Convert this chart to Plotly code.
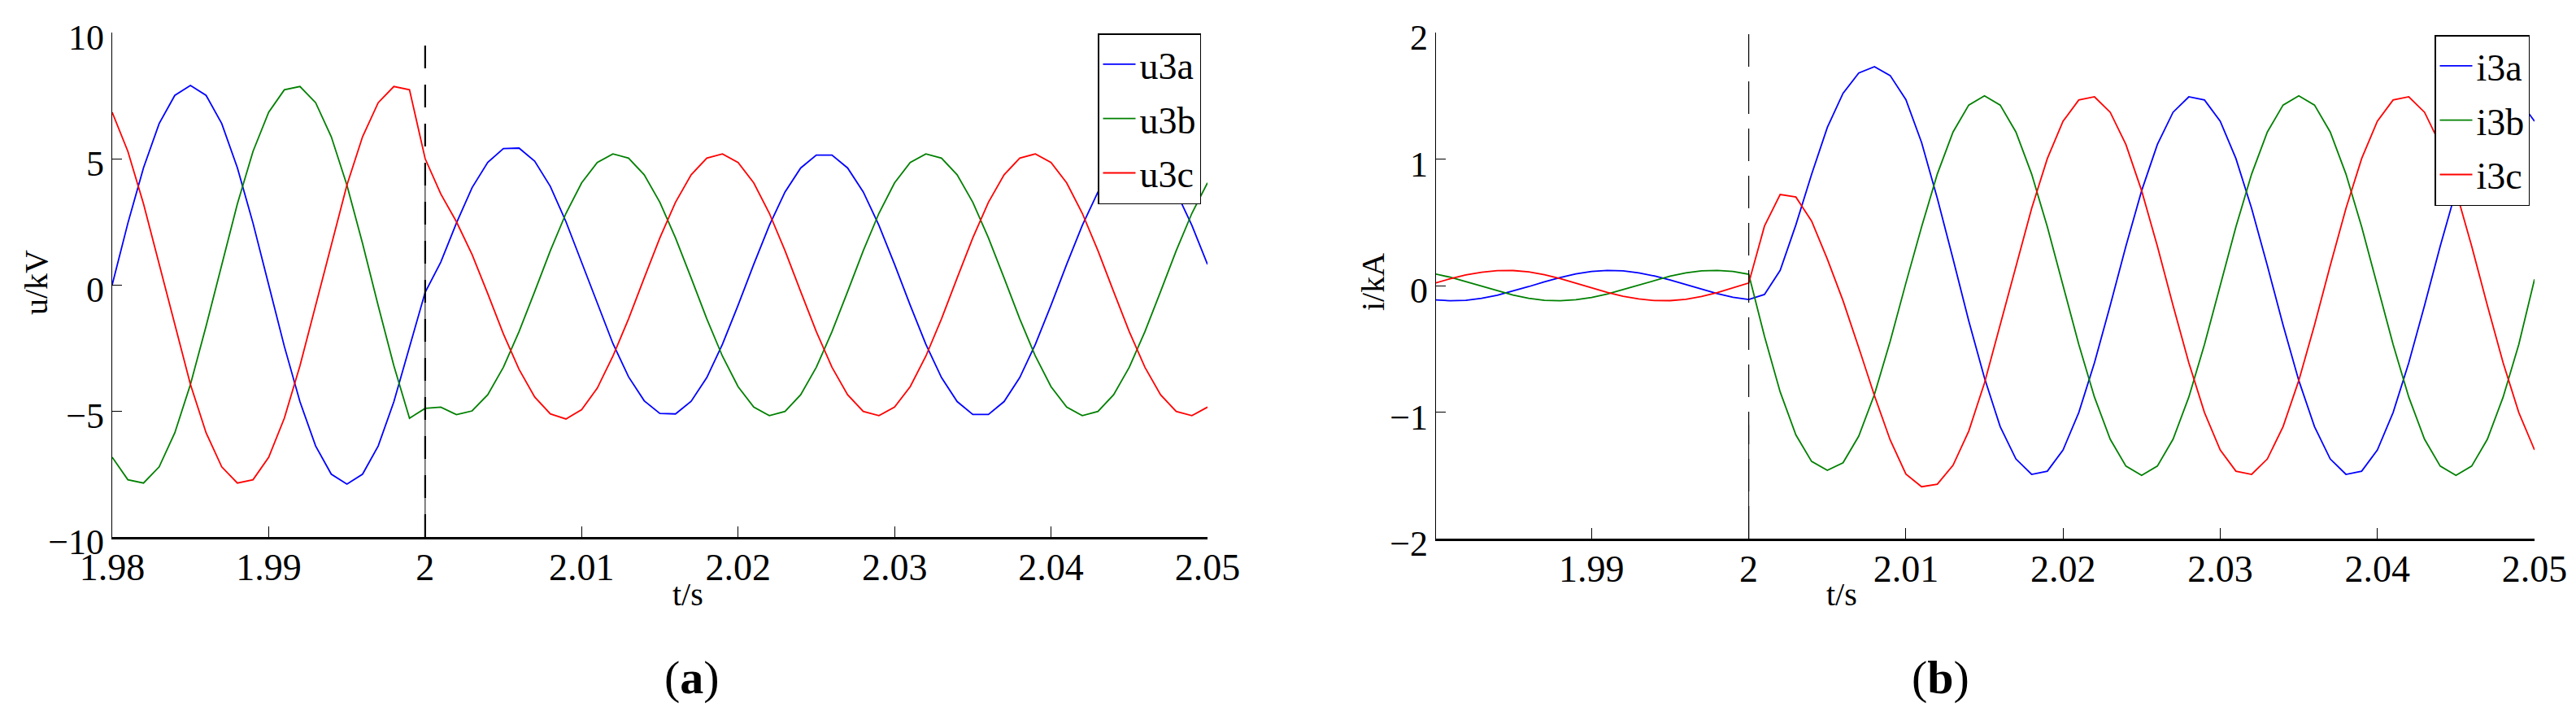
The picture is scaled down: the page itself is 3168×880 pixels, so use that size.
import plotly.graph_objects as go

# ---------------- data ----------------
t = [round(1.98 + 0.001 * i, 3) for i in range(71)]

u3a = [0, 2.44, 4.64, 6.39, 7.51, 7.90, 7.51, 6.39, 4.64, 2.44,
       0, -2.44, -4.64, -6.39, -7.51, -7.90, -7.51, -6.39, -4.64, -2.44,
       -0.30, 0.90, 2.45, 3.85, 4.85, 5.40, 5.42, 4.90, 3.90, 2.50,
       0.90, -0.75, -2.33, -3.65, -4.60, -5.10, -5.12, -4.62, -3.68, -2.36,
       -0.81, 0.81, 2.36, 3.68, 4.63, 5.14, 5.14, 4.63, 3.68, 2.36,
       0.81, -0.81, -2.36, -3.68, -4.63, -5.14, -5.14, -4.63, -3.68, -2.36,
       -0.81, 0.81, 2.36, 3.68, 4.63, 5.14, 5.14, 4.63, 3.68, 2.36, 0.81]
u3b = [-6.84, -7.73, -7.86, -7.22, -5.87, -3.95, -1.64, 0.83, 3.21, 5.29,
       6.84, 7.73, 7.86, 7.22, 5.87, 3.95, 1.64, -0.83, -3.21, -5.29,
       -4.90, -4.85, -5.15, -5.00, -4.36, -3.27, -1.86, -0.27, 1.35, 2.83,
       4.04, 4.85, 5.19, 5.02, 4.36, 3.27, 1.86, 0.27, -1.35, -2.83,
       -4.04, -4.85, -5.19, -5.02, -4.36, -3.27, -1.86, -0.27, 1.35, 2.83,
       4.04, 4.85, 5.19, 5.02, 4.36, 3.27, 1.86, 0.27, -1.35, -2.83,
       -4.04, -4.85, -5.19, -5.02, -4.36, -3.27, -1.86, -0.27, 1.35, 2.83, 4.04]
u3c = [6.84, 5.29, 3.21, 0.83, -1.64, -3.95, -5.87, -7.22, -7.86, -7.73,
       -6.84, -5.29, -3.21, -0.83, 1.64, 3.95, 5.87, 7.22, 7.86, 7.73,
       5.00, 3.60, 2.50, 1.20, -0.35, -1.95, -3.35, -4.45, -5.12, -5.32,
       -4.95, -4.10, -2.83, -1.35, 0.27, 1.86, 3.27, 4.36, 5.02, 5.19,
       4.85, 4.04, 2.83, 1.35, -0.27, -1.86, -3.27, -4.36, -5.02, -5.19,
       -4.85, -4.04, -2.83, -1.35, 0.27, 1.86, 3.27, 4.36, 5.02, 5.19,
       4.85, 4.04, 2.83, 1.35, -0.27, -1.86, -3.27, -4.36, -5.02, -5.19, -4.85]

i3a = [-0.112, -0.120, -0.116, -0.101, -0.076, -0.044, -0.008, 0.030, 0.064, 0.092,
       0.112, 0.120, 0.116, 0.101, 0.076, 0.044, 0.008, -0.030, -0.064, -0.092,
       -0.110, -0.070, 0.120, 0.480, 0.880, 1.250, 1.520, 1.680, 1.730, 1.660,
       1.470, 1.130, 0.690, 0.210, -0.280, -0.730, -1.115, -1.370, -1.492, -1.467,
       -1.299, -1.004, -0.610, -0.157, 0.312, 0.750, 1.115, 1.370, 1.492, 1.467,
       1.299, 1.004, 0.610, 0.157, -0.312, -0.750, -1.115, -1.370, -1.492, -1.467,
       -1.299, -1.004, -0.610, -0.157, 0.312, 0.750, 1.115, 1.370, 1.492, 1.467, 1.299]
i3b = [0.094, 0.066, 0.032, -0.005, -0.042, -0.075, -0.100, -0.116, -0.120, -0.112,
       -0.094, -0.066, -0.032, 0.005, 0.042, 0.075, 0.100, 0.116, 0.120, 0.112,
       0.090, -0.400, -0.840, -1.180, -1.390, -1.460, -1.400, -1.190, -0.860, -0.440,
       0.020, 0.464, 0.882, 1.214, 1.427, 1.500, 1.427, 1.214, 0.882, 0.464,
       0.0, -0.464, -0.882, -1.214, -1.427, -1.500, -1.427, -1.214, -0.882, -0.464,
       0.0, 0.464, 0.882, 1.214, 1.427, 1.500, 1.427, 1.214, 0.882, 0.464,
       0.0, -0.464, -0.882, -1.214, -1.427, -1.500, -1.427, -1.214, -0.882, -0.464, 0.050]
i3c = [0.018, 0.054, 0.084, 0.106, 0.118, 0.119, 0.108, 0.086, 0.056, 0.020,
       -0.018, -0.054, -0.084, -0.106, -0.118, -0.119, -0.108, -0.086, -0.056, -0.020,
       0.020, 0.470, 0.720, 0.700, 0.510, 0.210, -0.120, -0.490, -0.870, -1.220,
       -1.490, -1.590, -1.570, -1.420, -1.150, -0.770, -0.312, 0.157, 0.610, 1.004,
       1.299, 1.467, 1.492, 1.370, 1.115, 0.750, 0.312, -0.157, -0.610, -1.004,
       -1.299, -1.467, -1.492, -1.370, -1.115, -0.750, -0.312, 0.157, 0.610, 1.004,
       1.299, 1.467, 1.492, 1.370, 1.115, 0.750, 0.312, -0.157, -0.610, -1.004, -1.299]

x_ticks_a = [1.98, 1.99, 2.00, 2.01, 2.02, 2.03, 2.04, 2.05]
x_labels_a = ["1.98", "1.99", "2", "2.01", "2.02", "2.03", "2.04", "2.05"]
x_ticks_b = [1.99, 2.00, 2.01, 2.02, 2.03, 2.04, 2.05]
x_labels_b = ["1.99", "2", "2.01", "2.02", "2.03", "2.04", "2.05"]
y_ticks_a = [-10, -5, 0, 5, 10]
y_ticks_b = [-2, -1, 0, 1, 2]
fault_time = 2.0

# ---------------- figure ----------------
W, H = 3168, 880
FONT = "Liberation Serif, Times New Roman, serif"
BLUE, GREEN, RED = "#0000ff", "#008000", "#ff0000"

fig = go.Figure()
for name, ys, col in [("u3a", u3a, BLUE), ("u3b", u3b, GREEN), ("u3c", u3c, RED)]:
    fig.add_trace(go.Scatter(x=t, y=ys, mode="lines", name=name,
                             line=dict(color=col, width=1.8),
                             xaxis="x", yaxis="y", legend="legend",
                             legendgroup=name))
for name, ys, col in [("i3a", i3a, BLUE), ("i3b", i3b, GREEN), ("i3c", i3c, RED)]:
    fig.add_trace(go.Scatter(x=t, y=ys, mode="lines", name=name,
                             line=dict(color=col, width=1.8),
                             xaxis="x2", yaxis="y2", legend="legend2",
                             legendgroup=name))


def px_x(p):
    return p / W


def px_y(p):
    return 1 - p / H


xtickfont = dict(family=FONT, size=46, color="black")
ytickfont = dict(family=FONT, size=44, color="black")
common_x = dict(showline=True, linecolor="black", linewidth=2.5, ticks="inside",
                ticklen=13, tickwidth=1, tickcolor="black", showgrid=False,
                zeroline=False, tickfont=xtickfont, ticklabelstandoff=-5,
                automargin=False, mirror=False)
common_y = dict(showline=True, linecolor="black", linewidth=1.3, ticks="inside",
                ticklen=12, tickwidth=1, tickcolor="black", showgrid=False,
                zeroline=False, tickfont=ytickfont, ticklabelshift=6,
                automargin=False, mirror=False)

legend_common = dict(font=dict(family=FONT, size=46, color="black"),
                     bgcolor="white", bordercolor="black", borderwidth=1.5,
                     itemwidth=40, tracegroupgap=4, xanchor="right", yanchor="top",
                     xref="paper", yref="paper")

fig.update_layout(
    template="none",
    width=W, height=H,
    autosize=False,
    margin=dict(l=0, r=0, t=0, b=0, pad=0, autoexpand=False),
    font=dict(family=FONT, color="black"),
    paper_bgcolor="white", plot_bgcolor="white",
    xaxis=dict(domain=[px_x(130), px_x(1477)], range=[1.98, 2.05], anchor="y",
               tickvals=x_ticks_a, ticktext=x_labels_a, **common_x),
    yaxis=dict(domain=[px_y(652), px_y(32)], range=[-10, 10], anchor="x",
               tickvals=y_ticks_a, **common_y),
    xaxis2=dict(domain=[px_x(1758), px_x(3109)], range=[1.9801, 2.05], anchor="y2",
                tickvals=x_ticks_b, ticktext=x_labels_b, **common_x),
    yaxis2=dict(domain=[px_y(654), px_y(32)], range=[-2, 2], anchor="x2",
                tickvals=y_ticks_b, **common_y),
    legend=dict(x=px_x(1469), y=px_y(33), **legend_common),
    legend2=dict(x=px_x(3103), y=px_y(35), **legend_common),
    showlegend=True,
)

# fault-instant marker lines
fig.add_shape(type="line", xref="x", yref="y", x0=fault_time, x1=fault_time, y0=-10, y1=10.15,
              line=dict(color="black", width=2.2, dash="28px,20px"), layer="above")
fig.add_shape(type="line", xref="x", yref="y", x0=fault_time, x1=fault_time, y0=-10, y1=4.0,
              line=dict(color="black", width=1.0), layer="above")
fig.add_shape(type="line", xref="x2", yref="y2", x0=fault_time, x1=fault_time, y0=-2, y1=2.06,
              line=dict(color="black", width=1.2, dash="40px,18px"), layer="above")
fig.add_shape(type="line", xref="x2", yref="y2", x0=fault_time, x1=fault_time, y0=-2, y1=-1.1,
              line=dict(color="black", width=1.0), layer="above")

label_font = dict(family=FONT, size=40, color="black")
ann_common = dict(xref="paper", yref="paper", showarrow=False,
                  xanchor="center", yanchor="middle")
fig.add_annotation(text="u/kV", x=px_x(36), y=px_y(339), textangle=-90, font=label_font, **ann_common)
fig.add_annotation(text="i/kA", x=px_x(1680), y=px_y(339), textangle=-90, font=label_font, **ann_common)
fig.add_annotation(text="t/s", x=px_x(838), y=px_y(722), font=label_font, **ann_common)
fig.add_annotation(text="t/s", x=px_x(2257), y=px_y(722), font=label_font, **ann_common)
cap_font = dict(family=FONT, size=58, color="black")
fig.add_annotation(text="(<b>a</b>)", x=px_x(843), y=px_y(824), font=cap_font, **ann_common)
fig.add_annotation(text="(<b>b</b>)", x=px_x(2378), y=px_y(824), font=cap_font, **ann_common)

fig.write_html("out.html")
